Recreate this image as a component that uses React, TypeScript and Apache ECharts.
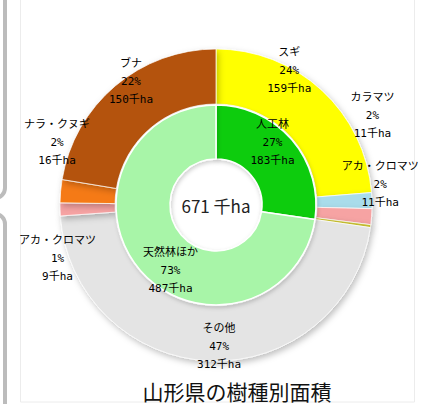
import { useEffect, useRef } from 'react';
import * as echarts from 'echarts';

// ---- data ----
const outerNames = ['スギ', 'カラマツ', 'アカ・クロマツ', 'その他(人工林)', 'その他', 'アカ・クロマツ', 'ナラ・クヌギ', 'ブナ'];
const outerValues = [159, 11, 11, 2, 312, 9, 16, 150];
const outerPercents = [24, 2, 2, 0, 47, 1, 2, 22];
const outerShowLabel = [true, true, true, false, true, true, true, true];
const innerNames = ['人工林', '天然林ほか'];
const innerValues = [183, 487];
const innerPercents = [27, 73];
const totalLabel = '671 千ha';
const chartTitle = '山形県の樹種別面積';
const unit = '千ha';

// ---- styles ----
const outerColors = ['#FFFF00', '#A9DCEB', '#F6A3A3', '#C8C030', '#E4E4E4', '#F6A3A3', '#F57A12', '#B4530C'];
const innerColors = ['#10CC10', '#A8F5A8'];
const outerLabelOffsets = [[-16, -38], [25, -86], [33, -30], [0, 0], [8, 10], [-27, 50], [-28, -51], [0, -23]];
const innerLabelOffsets = [[-1, -13], [12, 16]];

const labelFont = "'DejaVu Sans Mono', 'Noto Sans CJK JP', sans-serif";

export default function App() {
  const ref = useRef<HTMLDivElement>(null);
  useEffect(() => {
    if (!ref.current) return;
    const chart = echarts.init(ref.current, undefined, { renderer: 'svg' });
    const outerData = outerNames.map((n, i) => ({
      name: n,
      value: outerValues[i],
      itemStyle: { color: outerColors[i] },
      label: {
        show: outerShowLabel[i],
        formatter: `${n}\n${outerPercents[i]}%\n${outerValues[i]}${unit}`,
      },
    }));
    const innerData = innerNames.map((n, i) => ({
      name: n,
      value: innerValues[i],
      itemStyle: { color: innerColors[i] },
      label: { formatter: `${n}\n${innerPercents[i]}%\n${innerValues[i]}${unit}` },
    }));
    const labelStyle = {
      position: 'inside',
      color: '#000',
      fontSize: 11,
      lineHeight: 18,
      fontFamily: labelFont,
      fontWeight: 'normal',
    };
    chart.setOption({
      animation: false,
      backgroundColor: '#ffffff',
      graphic: [
        { type: 'rect', shape: { x: -20, y: -20, width: 25, height: 218, r: 10 }, style: { fill: 'none', stroke: '#bcbcbc', lineWidth: 4 } },
        { type: 'rect', shape: { x: -20, y: 214, width: 25, height: 300, r: 10 }, style: { fill: 'none', stroke: '#bcbcbc', lineWidth: 4 } },
        { type: 'rect', z: -10, shape: { x: 20.5, y: -5, width: 394, height: 407 }, style: { fill: '#fff', stroke: '#ececec', lineWidth: 1 } },
        {
          type: 'text', x: 216, y: 205, z: 10,
          style: { text: totalLabel, fontSize: 17, fill: '#222', align: 'center', verticalAlign: 'middle', fontFamily: "'Noto Sans CJK JP', sans-serif" },
        },
        {
          type: 'text', x: 237, y: 380, z: 10,
          style: { text: chartTitle, fontSize: 21, fill: '#111', align: 'center', verticalAlign: 'top', fontFamily: "'Noto Sans CJK JP', sans-serif" },
        },
      ],
      series: [
        {
          type: 'pie',
          radius: [101, 156],
          center: [216, 205],
          startAngle: 90,
          clockwise: true,
          silent: true,
          itemStyle: {
            borderColor: 'rgba(255,255,255,0.7)',
            borderWidth: 1,
            shadowBlur: 6,
            shadowColor: 'rgba(0,0,0,0.25)',
            shadowOffsetX: 2,
            shadowOffsetY: 3,
          },
          label: labelStyle,
          labelLine: { show: false },
          labelLayout: (p: any) => ({ dx: outerLabelOffsets[p.dataIndex][0], dy: outerLabelOffsets[p.dataIndex][1] }),
          data: outerData,
        },
        {
          type: 'pie',
          radius: [46, 100],
          center: [216, 205],
          startAngle: 90,
          clockwise: true,
          silent: true,
          itemStyle: {
            borderColor: '#ffffff',
            borderWidth: 1.5,
            shadowBlur: 4,
            shadowColor: 'rgba(0,0,0,0.2)',
            shadowOffsetX: 1,
            shadowOffsetY: 2,
          },
          label: labelStyle,
          labelLine: { show: false },
          labelLayout: (p: any) => ({ dx: innerLabelOffsets[p.dataIndex][0], dy: innerLabelOffsets[p.dataIndex][1] }),
          data: innerData,
        },
      ],
    });
    return () => chart.dispose();
  }, []);
  return <div ref={ref} style={{ position: 'fixed', left: 0, top: 0, width: 430, height: 404 }} />;
}
